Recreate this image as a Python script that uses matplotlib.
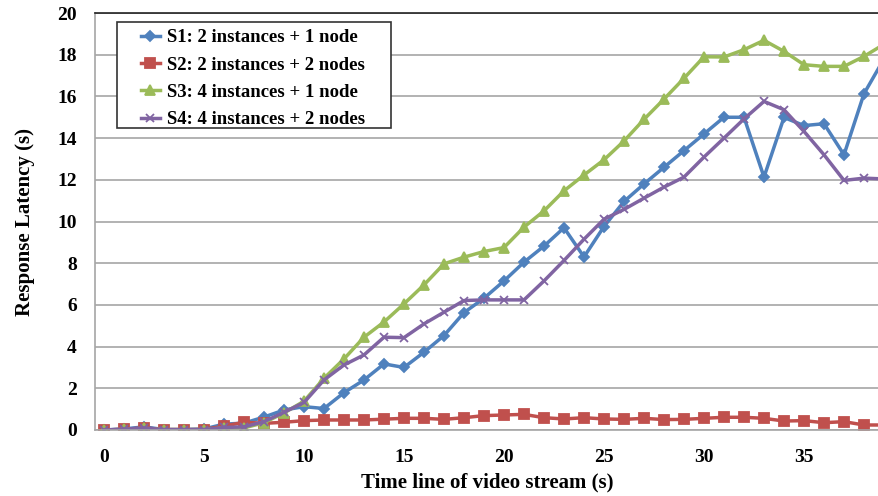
import matplotlib
matplotlib.use("Agg")
import matplotlib.pyplot as plt
from matplotlib.patches import Rectangle

# Time line of video stream (s)
t = list(range(40))

s1 = [0.0, 0.05, 0.15, 0.02, 0.02, 0.05, 0.28, 0.33, 0.62, 0.96,
      1.12, 1.03, 1.79, 2.40, 3.17, 3.0, 3.73, 4.53, 5.63, 6.32,
      7.15, 8.05, 8.82, 9.70, 8.30, 9.76, 10.96, 11.80, 12.60, 13.40,
      14.20, 15.0, 15.0, 12.13, 14.99, 14.60, 14.69, 13.20, 16.13, 17.80]
s2 = [0.0, 0.03, 0.10, 0.02, 0.02, 0.02, 0.19, 0.37, 0.32, 0.37,
      0.45, 0.48, 0.48, 0.48, 0.52, 0.56, 0.56, 0.51, 0.59, 0.69,
      0.72, 0.75, 0.59, 0.53, 0.59, 0.53, 0.51, 0.56, 0.50, 0.51,
      0.56, 0.61, 0.61, 0.56, 0.43, 0.45, 0.35, 0.40, 0.24, 0.24]
s3 = [0.0, 0.03, 0.08, 0.02, 0.02, 0.02, 0.10, 0.10, 0.35, 0.82,
      1.38, 2.48, 3.41, 4.45, 5.18, 6.05, 6.96, 7.97, 8.29, 8.56,
      8.75, 9.73, 10.51, 11.47, 12.23, 12.96, 13.86, 14.90, 15.87, 16.87,
      17.90, 17.89, 18.24, 18.69, 18.16, 17.52, 17.44, 17.44, 17.92, 18.50]
s4 = [0.0, 0.04, 0.10, 0.02, 0.02, 0.02, 0.12, 0.15, 0.40, 0.85,
      1.32, 2.40, 3.12, 3.60, 4.45, 4.43, 5.09, 5.65, 6.21, 6.24,
      6.24, 6.24, 7.15, 8.13, 9.15, 10.11, 10.58, 11.12, 11.65, 12.13,
      13.09, 14.00, 14.92, 15.76, 15.36, 14.32, 13.20, 11.97, 12.08, 12.04]

labels = ["S1: 2 instances + 1 node", "S2: 2 instances + 2 nodes",
          "S3: 4 instances + 1 node", "S4: 4 instances + 2 nodes"]
colors = ["#4F81BD", "#C0504D", "#9BBB59", "#8064A2"]
markers = ["D", "s", "^", "x"]
msizes = [5.5, 7, 7.5, 6]

plt.rcParams['font.family'] = ['Liberation Serif', 'DejaVu Serif']
plt.rcParams['font.weight'] = 'bold'

W, H = 879, 496
fig = plt.figure(figsize=(W / 100, H / 100), dpi=100)
ax = fig.add_axes([95 / W, (H - 430) / H, (W - 95) / W, (430 - 13) / H])

for ys, lab, c, m, ms in zip([s1, s2, s3, s4], labels, colors, markers, msizes):
    ax.plot(t, ys, color=c, lw=2.5, marker=m, markersize=ms,
            markeredgewidth=1.3, markeredgecolor=c, label=lab)

ax.set_xlim(-0.45, 38.75)
ax.set_ylim(0, 20)
ax.set_xticks(range(0, 40, 5))
ax.set_yticks(range(0, 21, 2))
ax.tick_params(axis='x', length=0, labelsize=14, pad=14)
ax.tick_params(axis='y', length=0, labelsize=14, pad=13)
for lbl in ax.get_xticklabels() + ax.get_yticklabels():
    lbl.set_fontweight('bold')

ax.grid(axis='y', color='#A6A6A6', lw=1.2)
ax.set_axisbelow(True)
ax.spines['right'].set_visible(False)
ax.spines['left'].set_color('#A6A6A6')
ax.spines['left'].set_linewidth(1.2)
ax.spines['bottom'].set_color('#A6A6A6')
ax.spines['bottom'].set_linewidth(1.2)
ax.spines['top'].set_color('#222222')
ax.spines['top'].set_linewidth(1.2)

ax.set_xlabel("Time line of video stream (s)", fontsize=15, fontweight='bold', labelpad=4)
ax.set_ylabel("Response Latency (s)", fontsize=15, fontweight='bold', labelpad=16)

# Legend entries without the default frame; the box is drawn separately
leg = fig.legend(loc='upper left', bbox_to_anchor=(141 / W, (H - 29) / H),
                 prop={'family': 'Liberation Serif', 'weight': 'bold', 'size': 13.5},
                 frameon=False, borderpad=0, labelspacing=0.55,
                 handlelength=1.0, handletextpad=0.4, borderaxespad=0)
fig.patches.append(Rectangle((117 / W, (H - 128) / H), (391 - 117) / W, (128 - 22) / H,
                             transform=fig.transFigure, facecolor='white',
                             edgecolor='#333333', lw=1.2, zorder=2))
leg.set_zorder(3)

fig.savefig("out.png", dpi=100)
